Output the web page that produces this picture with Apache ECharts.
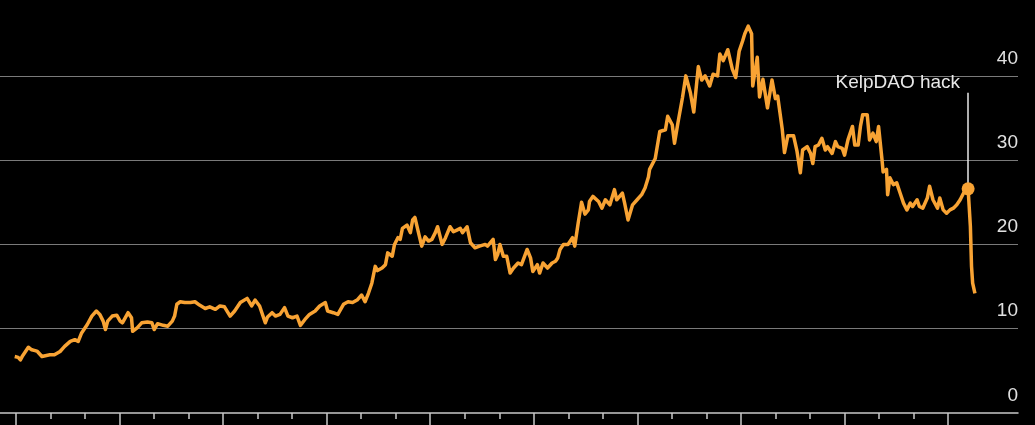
<!DOCTYPE html>
<html>
<head>
<meta charset="utf-8">
<script src="https://cdn.jsdelivr.net/npm/echarts@6/dist/echarts.min.js"></script>
<style>
html,body{margin:0;padding:0;background:#000;}
#c{width:1035px;height:425px;}
</style>
</head>
<body>
<div id="c"></div>
<script>
// Day offsets from the first major x tick
const days = [-1,2,4,6,11,14,17,19,23,26,30,34,39,43,48,52,55,58,63,67,71,74,77,79,81,85,89,92,94,99,102,103,107,111,116,120,122,125,130,134,138,140,142,145,149,154,158,162,167,171,176,180,184,189,193,198,204,208,211,215,220,222,226,229,233,237,240,244,248,251,255,259,264,268,273,275,280,284,289,293,297,301,305,308,311,314,317,319,323,326,328,332,334,337,339,341,345,348,350,352,355,358,361,364,367,370,372,376,379,383,386,389,392,394,398,401,405,409,414,416,421,423,425,427,430,433,436,439,443,446,451,454,456,460,462,465,469,473,476,478,480,483,487,491,493,496,499,502,505,506,509,514,517,520,524,528,530,535,537,540,544,548,552,555,558,559,564,568,573,575,579,581,584,588,591,595,598,602,605,608,612,615,619,621,624,628,632,635,638,641,643,646,649,650,654,656,659,663,667,670,672,676,678,681,686,689,692,694,698,701,703,705,708,711,714,716,720,723,725,729,731,734,738,740,743,745,747,751,753,756,759,761,764,765,768,769,771,774,777,780,783,786,789,791,795,797,800,804,806,809,813,815,818,821,824,827,830,833,836,840,842,843,844,846];
const values = [6.7,6.6,6.3,6.8,7.8,7.5,7.4,7.3,6.7,6.8,6.9,6.9,7.3,7.9,8.5,8.7,8.5,9.5,10.5,11.5,12.1,11.7,10.9,9.9,10.9,11.5,11.6,10.9,10.7,11.9,11.3,9.7,10.1,10.7,10.8,10.7,9.9,10.6,10.4,10.3,10.9,11.5,12.9,13.2,13.1,13.1,13.2,12.8,12.4,12.6,12.3,12.7,12.6,11.5,12.1,13.1,13.6,12.7,13.4,12.7,10.7,11.4,11.9,11.5,11.7,12.5,11.5,11.3,11.5,10.4,11.1,11.7,12.1,12.7,13.1,12.1,11.9,11.7,12.9,13.2,13.1,13.4,14.0,13.2,14.2,15.4,17.4,16.9,17.2,17.6,19.0,18.6,20.0,20.8,20.6,21.9,22.3,21.4,22.9,23.2,21.5,19.8,20.9,20.4,20.6,21.4,22.1,20.0,20.8,22.1,21.5,21.7,21.9,21.4,22.1,20.2,19.6,19.8,20.0,19.8,20.6,18.2,18.8,20.0,18.6,18.6,16.6,17.2,17.8,17.6,19.4,18.4,16.8,17.6,16.6,17.8,17.2,17.8,18.0,18.4,19.4,20.0,20.0,20.8,19.8,22.5,25.0,23.6,24.1,25.1,25.7,25.1,24.3,25.3,24.7,26.5,25.3,26.1,24.9,22.9,24.7,25.3,25.9,26.7,28.0,28.9,30.2,33.4,33.6,35.2,34.2,32.0,34.4,37.4,40.0,38.0,35.7,41.1,39.5,40.0,38.8,40.2,40.0,42.6,41.8,43.1,40.8,39.8,42.9,44.1,45.0,45.9,45.0,38.8,42.2,37.5,39.6,36.2,39.5,37.3,37.6,33.7,30.9,32.9,32.9,31.1,28.5,31.2,31.6,30.8,29.6,31.6,31.8,32.6,31.2,31.6,30.8,32.2,31.6,31.4,30.6,32.4,34.0,31.8,31.8,34.0,35.4,35.4,32.4,33.2,32.2,34.0,30.1,28.6,28.9,25.9,27.9,27.1,27.3,26.1,24.9,24.1,24.9,24.5,25.3,24.5,24.3,25.5,26.9,25.3,24.3,25.5,24.1,23.7,24.1,24.3,24.7,25.3,26.1,26.6,22.1,17.4,15.4,14.2];
const yTicks = [0, 10, 20, 30, 40];
const annotationText = 'KelpDAO hack';
const hackDay = 840;
const annotationTop = 38;

const hackIdx = days.indexOf(hackDay);
const hackValue = values[hackIdx];
const seriesData = days.map((d, i) => [d, values[i]]);

const chart = echarts.init(document.getElementById('c'), null, {renderer: 'canvas'});
const orange = '#f8a334';
chart.setOption({
  backgroundColor: '#000',
  animation: false,
  grid: [
    {left: 0, right: 17, top: 0, bottom: 12},
    {left: 16, right: 87, top: 412, bottom: 12}
  ],
  xAxis: [
    {
      gridIndex: 0, type: 'value', min: -14, max: 884,
      axisLine: {show: true, lineStyle: {color: '#c8c8c8', width: 1.5}},
      axisTick: {show: false}, axisLabel: {show: false}, splitLine: {show: false}
    },
    {
      gridIndex: 1, type: 'value', min: 0, max: 27, interval: 3,
      axisLine: {show: false},
      axisTick: {show: true, length: 12, lineStyle: {color: '#c8c8c8', width: 1.5}},
      minorTick: {show: true, splitNumber: 3, length: 6, lineStyle: {color: '#c8c8c8', width: 1.5}},
      axisLabel: {show: false}, splitLine: {show: false}
    }
  ],
  yAxis: [
    {
      gridIndex: 0, type: 'value', position: 'right', min: 0, max: 49, interval: 10,
      axisLine: {show: false}, axisTick: {show: false},
      axisLabel: {
        inside: true, margin: 0, showMaxLabel: false,
        color: '#e0e0e0', fontSize: 19, fontFamily: 'Liberation Sans',
        verticalAlign: 'bottom', padding: [0, 0, 8, 0],
        formatter: v => (yTicks.indexOf(v) >= 0 ? String(v) : '')
      },
      splitLine: {show: true, showMaxLine: false, showMinLine: false, lineStyle: {color: '#7a7a7a', width: 1}}
    },
    {gridIndex: 1, type: 'value', show: false}
  ],
  series: [
    {
      type: 'line', xAxisIndex: 0, yAxisIndex: 0,
      data: seriesData, showSymbol: false, smooth: false,
      lineStyle: {color: orange, width: 3.5, join: 'round'},
      z: 3,
      markLine: {
        silent: true, symbol: ['none', 'none'],
        lineStyle: {color: '#e8e8e8', width: 1.5, type: 'solid'},
        label: {show: false},
        data: [[{coord: [hackDay, hackValue]}, {coord: [hackDay, annotationTop]}]],
        z: 2
      },
      markPoint: {
        silent: true,
        data: [
          {coord: [hackDay, hackValue], symbol: 'circle', symbolSize: 13,
           itemStyle: {color: orange}, label: {show: false}},
          {coord: [hackDay, annotationTop], symbol: 'circle', symbolSize: 0,
           label: {show: true, formatter: annotationText, position: 'left', distance: 8,
                   align: 'right', verticalAlign: 'bottom',
                   color: '#e8e8e8', fontSize: 19, fontFamily: 'Liberation Sans'}}
        ]
      }
    }
  ]
});
</script>
</body>
</html>
